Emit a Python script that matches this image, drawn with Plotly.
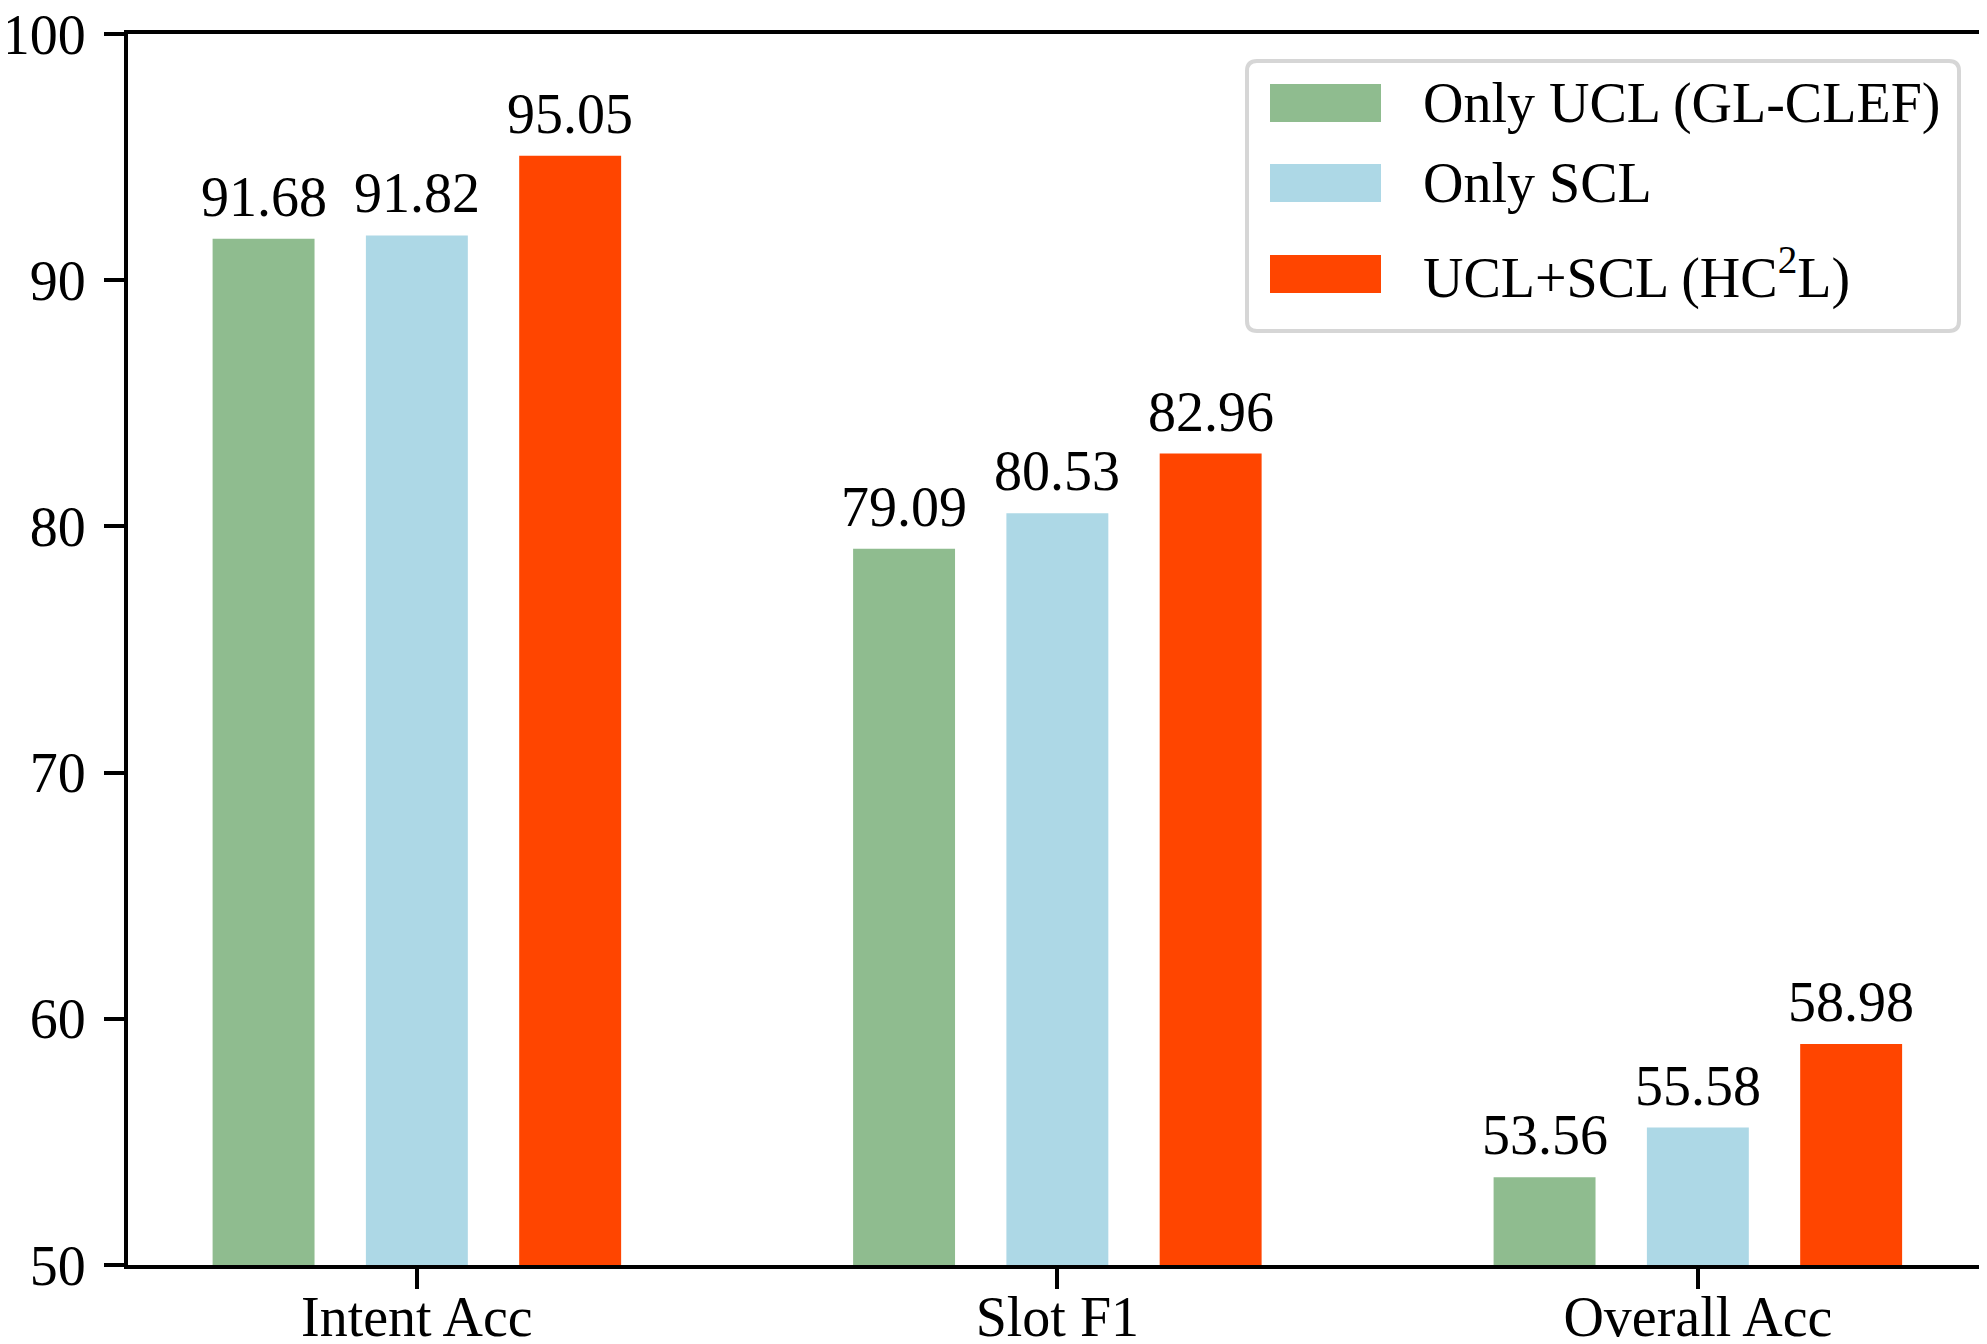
import plotly.graph_objects as go

categories = ["Intent Acc", "Slot F1", "Overall Acc"]
series_names = ["Only UCL (GL-CLEF)", "Only SCL", "UCL+SCL (HC<sup>2</sup>L)"]
ucl_only = [91.68, 79.09, 53.56]
scl_only = [91.82, 80.53, 55.58]
ucl_scl = [95.05, 82.96, 58.98]
colors = ["#8FBC8F", "#ADD8E6", "#FF4500"]
y_ticks = [50, 60, 70, 80, 90, 100]

W, H = 1987, 1344
L, R, T, B = 120, 7, 26, 87
PW, PH = W - L - R, H - T - B
FONT = "Liberation Serif, Times New Roman, serif"
FS = 56
XRANGE = [-0.451, 2.453]
BARGAP, BARGROUPGAP = 0.282, 0.335

def px(x):
    return (x - L) / PW

def py(y):
    return (H - B - y) / PH

all_series = [ucl_only, scl_only, ucl_scl]
fig = go.Figure()
for name, vals, col in zip(series_names, all_series, colors):
    fig.add_trace(go.Bar(
        x=categories, y=vals, name=name, marker=dict(color=col, line=dict(width=0)),
        showlegend=False,
    ))

annotations = []
# value labels above bars (offset of each bar in its group, in pixels)
unit_px = PW / (XRANGE[1] - XRANGE[0])
slot_px = unit_px * (1 - BARGAP) / len(all_series)
for i, vals in enumerate(all_series):
    shift = (i - (len(all_series) - 1) / 2) * slot_px
    for cat, v in zip(categories, vals):
        annotations.append(dict(xref="x", yref="y", x=cat, y=v, xshift=shift, yshift=9,
                                xanchor="center", yanchor="bottom", text=f"{v:.2f}",
                                showarrow=False, font=dict(family=FONT, size=FS, color="black")))

shapes = []
# legend box (rounded)
x0, x1, y0, y1 = px(1239), px(1951), py(323), py(53)
rx, ry = 10 / PW, 10 / PH
path = (f"M {x0+rx},{y0} L {x1-rx},{y0} Q {x1},{y0} {x1},{y0+ry} "
        f"L {x1},{y1-ry} Q {x1},{y1} {x1-rx},{y1} L {x0+rx},{y1} "
        f"Q {x0},{y1} {x0},{y1-ry} L {x0},{y0+ry} Q {x0},{y0} {x0+rx},{y0} Z")
shapes.append(dict(type="path", xref="paper", yref="paper", path=path,
                   line=dict(color="#D6D6D6", width=4), fillcolor="white", layer="above"))
row_y = [95, 175, 266]
for name, col, ry_ in zip(series_names, colors, row_y):
    shapes.append(dict(type="rect", xref="paper", yref="paper",
                       x0=px(1262), x1=px(1373), y0=py(ry_ + 19), y1=py(ry_ - 19),
                       fillcolor=col, line=dict(width=0), layer="above"))
    annotations.append(dict(xref="paper", yref="paper", x=px(1413), y=py(ry_),
                            xanchor="left", yanchor="middle", text=name, showarrow=False,
                            font=dict(family=FONT, size=FS, color="black")))

fig.update_layout(
    width=W, height=H, margin=dict(l=L, r=R, t=T, b=B, autoexpand=False),
    paper_bgcolor="white", plot_bgcolor="white",
    barmode="group", bargap=BARGAP, bargroupgap=BARGROUPGAP,
    font=dict(family=FONT, size=FS, color="black"),
    shapes=shapes, annotations=annotations,
    xaxis=dict(range=XRANGE, showline=True, linecolor="black", linewidth=4, mirror=True,
               ticks="outside", ticklen=20, tickwidth=4, tickcolor="black",
               showgrid=False, zeroline=False, automargin=False, ticklabelstandoff=-20,
               ticklabeloverflow="allow",
               tickfont=dict(family=FONT, size=FS, color="black")),
    yaxis=dict(range=[50, 100], tickvals=y_ticks, showline=True, linecolor="black", linewidth=4,
               mirror=True, ticks="outside", ticklen=20, tickwidth=4, tickcolor="black",
               showgrid=False, zeroline=False, automargin=False, ticklabelstandoff=7,
               ticklabeloverflow="allow",
               tickfont=dict(family=FONT, size=FS, color="black")),
)
fig.write_html("out.html")
